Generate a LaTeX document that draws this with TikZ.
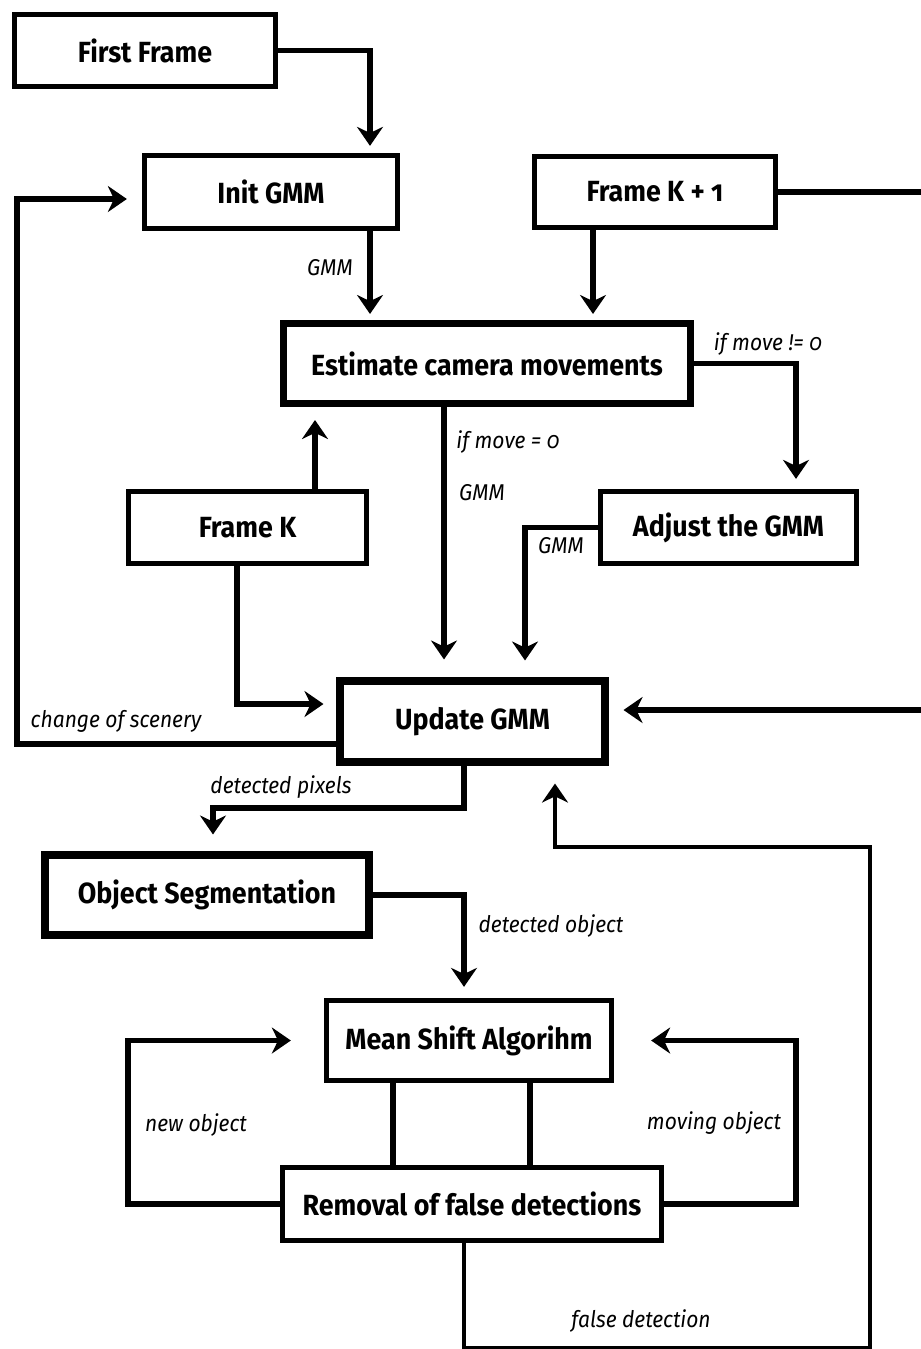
\documentclass[tikz,border=0pt]{standalone}
\usepackage{fontspec}
\setmainfont{Fira Sans}[Numbers=OldStyle,FakeStretch=0.92]
\usetikzlibrary{arrows.meta}

\tikzset{
    box/.style={draw,line width=3pt,font=\bfseries\fontsize{16.6}{20}\selectfont},
    bigbox/.style={box,line width=4pt},
    lbl/.style={font=\itshape\fontsize{13}{15}\selectfont},
    link/.style={line width=3pt},
    flow/.style={link,-{Stealth[length=0.38cm,width=0.52cm]},shorten >=0.3cm},
}

\begin{document}
\begin{tikzpicture}
    \useasboundingbox (0,0) rectangle (18.42,-26.98);

    \path ( 2.90,  -1.01) node [box,minimum width=5.22cm,minimum height=1.44cm] (first) {First Frame};
    \path ( 5.42,  -3.84) node [box,minimum width=5.06cm,minimum height=1.46cm] (initgmm) {Init GMM};
    \path (13.10,  -3.84) node [box,minimum width=4.82cm,minimum height=1.42cm] (framek1) {Frame K + 1};
    \path ( 9.74,  -7.27) node [bigbox,minimum width=8.14cm,minimum height=1.60cm] (estimate) {Estimate camera movements};
    \path ( 4.95, -10.55) node [box,minimum width=4.76cm,minimum height=1.44cm] (framek) {Frame K};
    \path (14.57, -10.55) node [box,minimum width=5.12cm,minimum height=1.44cm] (adjust) {Adjust the GMM};
    \path ( 9.45, -14.43) node [bigbox,minimum width=5.30cm,minimum height=1.62cm] (update) {Update GMM};
    \path ( 4.14, -17.90) node [bigbox,minimum width=6.48cm,minimum height=1.60cm] (objseg) {Object Segmentation};
    \path ( 9.38, -20.81) node [box,minimum width=5.70cm,minimum height=1.60cm] (meanshift) {Mean Shift Algorihm};
    \path ( 9.44, -24.08) node [box,minimum width=7.58cm,minimum height=1.46cm] (removal) {Removal of false detections};

    \coordinate (colA) at ( 7.40, 0);
    \coordinate (colB) at (11.86, 0);
    \coordinate (colC) at (15.92, 0);
    \coordinate (colD) at ( 8.88, 0);
    \coordinate (colE) at (10.50, 0);
    \coordinate (colF) at ( 6.30, 0);
    \coordinate (colG) at ( 4.74, 0);
    \coordinate (colH) at ( 9.28, 0);
    \coordinate (colI) at ( 7.86, 0);
    \coordinate (colJ) at (10.60, 0);
    \coordinate (colK) at ( 4.26, 0);
    \coordinate (colL) at ( 2.56, 0);
    \coordinate (colM) at (11.10, 0);
    \coordinate (leftc) at ( 0.34,  -3.98);
    \coordinate (rightc) at (18.70, -14.20);
    \coordinate (pixbend) at ( 4.26, -16.16);
    \coordinate (fdcorner) at (17.40, -26.95);
    \coordinate (fdtop) at (17.40, -16.94);

    \draw [flow,shorten >=0.14cm] (first.east) -| (initgmm.north -| colA);
    \draw [flow,shorten >=0.12cm] (initgmm.south -| colA) -- (estimate.north -| colA);
    \draw [flow,shorten >=0.12cm] (framek1.south -| colB) -- (estimate.north -| colB);
    \draw [flow] ([yshift=-0.45cm]update.west) -| (leftc) -- ([yshift=-0.14cm]initgmm.west);
    \draw [flow,shorten >=0.2cm] (estimate.east) -| (adjust.north -| colC);
    \draw [flow,shorten >=0.26cm] (framek.north -| colF) -- (estimate.south -| colF);
    \draw [flow,shorten >=0.36cm] (estimate.south -| colD) -- (update.north -| colD);
    \draw [flow,shorten >=0.34cm] (adjust.west) -| (update.north -| colE);
    \draw [flow,shorten >=0.26cm] (framek.south -| colG) |- ([yshift=0.35cm]update.west);
    \draw [flow] (framek1.east) -| (rightc) -- ([yshift=0.23cm]update.east);
    \draw [flow,shorten >=0.34cm] (update.south -| colH) |- (pixbend) -- (objseg.north -| colK);
    \draw [flow,shorten >=0.22cm] (objseg.east) -| (meanshift.north -| colH);
    \draw [link] (meanshift.south -| colI) -- (removal.north -| colI);
    \draw [link] (meanshift.south -| colJ) -- (removal.north -| colJ);
    \draw [flow,shorten >=0.66cm] (removal.west) -| (meanshift.west -| colL) -- (meanshift.west);
    \draw [flow,shorten >=0.74cm] (removal.east) -| (meanshift.east -| colC) -- (meanshift.east);
    \draw [flow,line width=2pt,shorten >=0.36cm] (removal.south -| colH) |- (fdcorner) -- (fdtop) -| (update.south -| colM);

    \path ( 6.60,  -5.36) node [lbl] (lgmmA) {GMM};
    \path (15.36,  -6.88) node [lbl] (lmove) {if move != 0};
    \path (10.16,  -8.84) node [lbl] (lstill) {if move = 0};
    \path ( 9.64,  -9.86) node [lbl] (lgmmB) {GMM};
    \path (11.22, -10.92) node [lbl] (lgmmC) {GMM};
    \path ( 2.32, -14.42) node [lbl] (lscene) {change of scenery};
    \path ( 5.62, -15.74) node [lbl] (lpixels) {detected pixels};
    \path (11.02, -18.52) node [lbl] (ldetobj) {detected object};
    \path ( 3.92, -22.50) node [lbl] (lnewobj) {new object};
    \path (14.28, -22.46) node [lbl] (lmoving) {moving object};
    \path (12.82, -26.42) node [lbl] (lfalse) {false detection};
\end{tikzpicture}
\end{document}
